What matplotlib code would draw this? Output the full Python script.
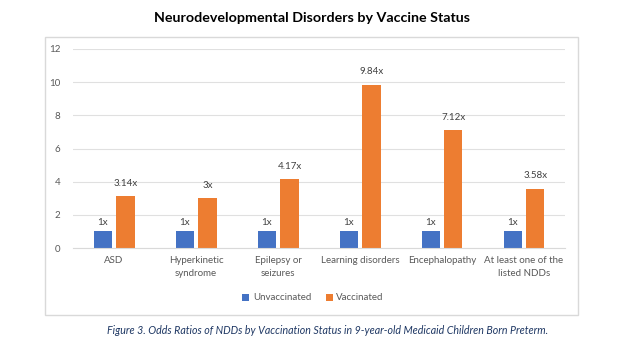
import numpy as np
import matplotlib.pyplot as plt
from matplotlib.patches import Rectangle

# Data
categories = ["ASD", "Hyperkinetic\nsyndrome", "Epilepsy or\nseizures",
              "Learning disorders", "Encephalopathy", "At least one of the\nlisted NDDs"]
unvaccinated = [1, 1, 1, 1, 1, 1]
vaccinated = [3.14, 3, 4.17, 9.84, 7.12, 3.58]
unvac_labels = ["1x", "1x", "1x", "1x", "1x", "1x"]
vac_labels = ["3.14x", "3x", "4.17x", "9.84x", "7.12x", "3.58x"]

plt.rcParams['font.family'] = ['Lato', 'DejaVu Sans']

fig = plt.figure(figsize=(6.24, 3.51), dpi=100)
ax = fig.add_axes([73 / 624, 1 - 248 / 351, 492 / 624, 199 / 351])

# chart border
fig.patches.append(Rectangle((45 / 624, 1 - 315 / 351), 533 / 624, 278 / 351,
                             transform=fig.transFigure, fill=False,
                             edgecolor="#D9D9D9", linewidth=1))

x = np.arange(len(categories))
w = 0.22
b1 = ax.bar(x - 0.14, unvaccinated, w, color="#4472C4", label="Unvaccinated")
b2 = ax.bar(x + 0.14, vaccinated, w, color="#ED7D31", label="Vaccinated")

for rect, lab in zip(b1, unvac_labels):
    ax.annotate(lab, (rect.get_x() + rect.get_width() / 2, rect.get_height()),
                xytext=(0, 3), textcoords="offset points", ha="center", va="bottom",
                fontsize=7, color="#404040")
for rect, lab in zip(b2, vac_labels):
    ax.annotate(lab, (rect.get_x() + rect.get_width() / 2, rect.get_height()),
                xytext=(0, 6), textcoords="offset points", ha="center", va="bottom",
                fontsize=7, color="#404040")

ax.set_ylim(0, 12)
ax.set_yticks(range(0, 13, 2))
ax.set_xlim(-0.5, len(categories) - 0.5)
ax.set_xticks(x)
ax.set_xticklabels(categories, fontsize=7, color="#595959", linespacing=1.5)
ax.tick_params(axis="y", labelsize=7, labelcolor="#595959", length=0, pad=9)
ax.tick_params(axis="x", length=0, pad=6)
ax.grid(axis="y", color="#E0E0E0", linewidth=0.8)
ax.set_axisbelow(True)
for s in ["top", "right", "left"]:
    ax.spines[s].set_visible(False)
ax.spines["bottom"].set_color("#D9D9D9")

fig.text(312 / 624, 1 - 18 / 351, "Neurodevelopmental Disorders by Vaccine Status",
         ha="center", va="center", fontsize=10.3, fontweight="bold", color="black")

fig.legend(handles=[b1, b2], loc="center", bbox_to_anchor=(313 / 624, 1 - 298 / 351),
           ncol=2, frameon=False, fontsize=7, handlelength=0.7, handleheight=0.7,
           columnspacing=1.5, handletextpad=0.4, labelcolor="#595959")

fig.text(328 / 624, 1 - 331 / 351,
         "Figure 3. Odds Ratios of NDDs by Vaccination Status in 9-year-old Medicaid Children Born Preterm.",
         ha="center", va="center", fontsize=7.7, style="italic", color="#1F3864")

fig.savefig("out.png", dpi=100)
